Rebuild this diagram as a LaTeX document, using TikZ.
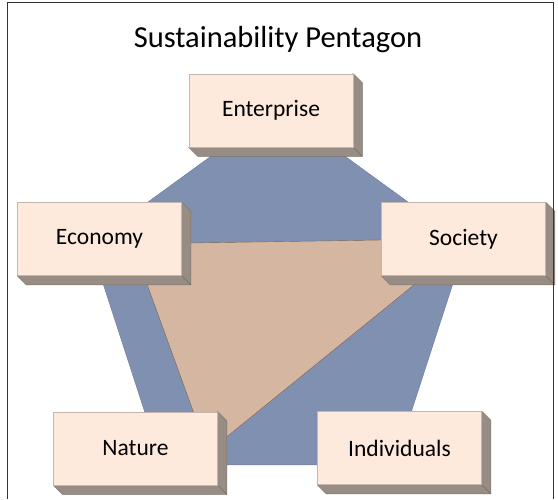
\documentclass[tikz,border=0pt]{standalone}
\usepackage{fontspec}
\setmainfont{Carlito}
\pgfdeclarelayer{bg}
\pgfdeclarelayer{mid}
\pgfsetlayers{bg,mid,main}
\definecolor{penta}{RGB}{128,144,176}
\definecolor{tri}{RGB}{213,182,160}
\definecolor{boxface}{RGB}{253,234,221}
\definecolor{boxedge}{RGB}{196,182,172}
\definecolor{boxside}{RGB}{152,141,133}
\tikzset{
  face/.style={draw=boxedge, fill=boxface, line width=0.6pt,
    minimum width=164pt, minimum height=73pt, inner sep=0pt,
    font=\fontsize{23.5}{28}\selectfont},
  titletext/.style={font=\fontsize{30.5}{36}\selectfont, inner sep=0pt},
  pentafill/.style={fill=penta, draw=penta!85!black, line width=0.4pt},
  trifill/.style={fill=tri, draw=tri!55!black, line width=0.4pt},
  sidefill/.style={fill=boxside, draw=boxside!80!black, line width=0.4pt},
  frameline/.style={draw=black!80, line width=0.9pt}
}
\newcommand\drawsides[1]{%
  \begin{pgfonlayer}{mid}
    \path[sidefill] (#1.north east) -- ([shift={(9,9)}]#1.north east)
      -- ([shift={(9,9)}]#1.south east) -- ([shift={(9,9)}]#1.south west)
      -- (#1.south west) -- cycle;
    \draw[boxside!75!black, line width=0.4pt] (#1.south east) -- ([shift={(9,9)}]#1.south east);
  \end{pgfonlayer}}
\begin{document}
\begin{tikzpicture}[x=1pt, y=-1pt]
\useasboundingbox (0,0) rectangle (558,499);
% frame
\draw[frameline] (7,499) -- (7,2.5) -- (553,2.5) -- (553,499);
% title
\node[titletext] (title) at (278,40) {Sustainability Pentagon};
% pentagon
\coordinate (p1) at (278,107.5);
\coordinate (p2) at (465.8,244);
\coordinate (p3) at (394.1,464.8);
\coordinate (p4) at (161.9,464.8);
\coordinate (p5) at (90.2,244);
\begin{pgfonlayer}{bg}
  \path[pentafill] (p1) -- (p2) -- (p3) -- (p4) -- (p5) -- cycle;
\end{pgfonlayer}
% triangle
\coordinate (ta) at (132.4,243.9);
\coordinate (tb) at (471,238.6);
\coordinate (tc) at (208,452);
\begin{pgfonlayer}{bg}
  \path[trifill] (ta) -- (tb) -- (tc) -- cycle;
\end{pgfonlayer}
% boxes
\node[face] (ent) at (271,110.5) {Enterprise};
\drawsides{ent}
\node[face] (eco) at (99.5,239) {Economy};
\drawsides{eco}
\node[face] (soc) at (463.5,239) {Society};
\drawsides{soc}
\node[face] (nat) at (135.5,448.5) {Nature};
\drawsides{nat}
\node[face] (ind) at (399.5,448) {Individuals};
\drawsides{ind}
\end{tikzpicture}
\end{document}
